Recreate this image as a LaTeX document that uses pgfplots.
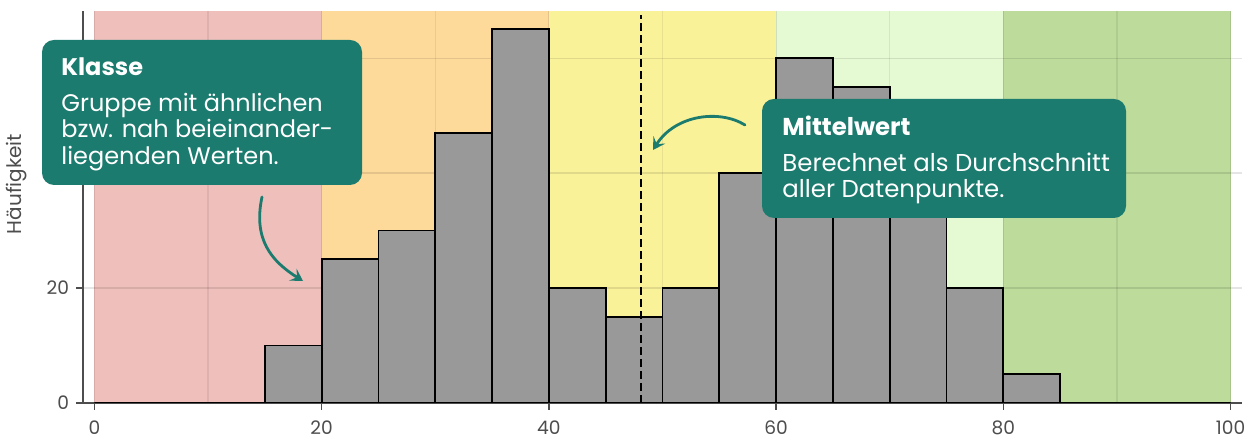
\documentclass[border=0pt]{standalone}
\usepackage{fontspec}
\setmainfont{Poppins}
\usepackage{pgfplots}
\pgfplotsset{compat=1.18}
\usetikzlibrary{arrows.meta}
\definecolor{cred}{HTML}{EFBFBC}
\definecolor{corange}{HTML}{FDDA9A}
\definecolor{cyellow}{HTML}{FAF299}
\definecolor{clgreen}{HTML}{E5F9D3}
\definecolor{cgreen}{HTML}{BDDB9B}
\definecolor{barfill}{HTML}{999999}
\definecolor{axisgray}{HTML}{4D4D4D}
\definecolor{labelgray}{HTML}{4D4D4D}
\definecolor{teal}{HTML}{1B7B6E}
\begin{document}
\begin{tikzpicture}
\begin{axis}[
 set layers,
 scale only axis, width=579.5pt, height=196pt,
 xmin=-1, xmax=101, ymin=0, ymax=68.2,
 axis lines*=left,
 axis line style={draw=axisgray, line width=0.7pt},
 xtick={0,20,...,100}, ytick={0,20,40,60},
 minor xtick={10,30,50,70,90},
 xmajorgrids, ymajorgrids, xminorgrids,
 major grid style={draw=black, draw opacity=0.1, line width=0.6pt},
 minor grid style={draw=black, draw opacity=0.07, line width=0.6pt},
 tick align=outside, major tick length=3.5pt, minor tick length=0pt,
 tick style={draw=axisgray, line width=0.7pt},
 ticklabel style={font=\fontsize{9.3}{10}\selectfont, text=labelgray},
 xticklabel style={yshift=-2pt},
 /pgf/number format/assume math mode=true,
]
\addplot[fill=cred, draw=none, on layer=axis background] coordinates {(0,68.2) (20,68.2)} \closedcycle;
\addplot[fill=corange, draw=none, on layer=axis background] coordinates {(20,68.2) (40,68.2)} \closedcycle;
\addplot[fill=cyellow, draw=none, on layer=axis background] coordinates {(40,68.2) (60,68.2)} \closedcycle;
\addplot[fill=clgreen, draw=none, on layer=axis background] coordinates {(60,68.2) (80,68.2)} \closedcycle;
\addplot[fill=cgreen, draw=none, on layer=axis background] coordinates {(80,68.2) (100,68.2)} \closedcycle;
\addplot[ybar interval, fill=barfill, draw=black, line width=0.9pt] table {
x y
0 0
5 0
10 0
15 10
20 25
25 30
30 47
35 65
40 20
45 15
50 20
55 40
60 60
65 55
70 40
75 20
80 5
85 0
90 0
95 0
100 0
};
\addplot[black, line width=0.8pt, dash pattern=on 4pt off 2pt] coordinates {(48.1,0) (48.1,67.5)};
\end{axis}
% y label
\node[rotate=90, font=\fontsize{10}{11}\selectfont, text=labelgray] at (-33pt,109.5pt) {Häufigkeit};
% Klasse box
\fill[teal, rounded corners=6pt] (-20.5pt,109pt) rectangle (139.5pt,181.5pt);
\node[anchor=base west, inner sep=0pt, text=white, font=\fontsize{12}{12}\selectfont\bfseries] at (-11pt,163.5pt) {Klasse};
\node[anchor=base west, inner sep=0pt, text=white, font=\fontsize{12}{12}\selectfont] at (-11pt,145.5pt) {Gruppe mit ähnlichen};
\node[anchor=base west, inner sep=0pt, text=white, font=\fontsize{12}{12}\selectfont] at (-11pt,132.5pt) {bzw. nah beieinander-};
\node[anchor=base west, inner sep=0pt, text=white, font=\fontsize{12}{12}\selectfont] at (-11pt,119pt) {liegenden Werten.};
% Mittelwert box
\fill[teal, rounded corners=6pt] (339.5pt,92.5pt) rectangle (521.5pt,152pt);
\node[anchor=base west, inner sep=0pt, text=white, font=\fontsize{12.2}{12}\selectfont\bfseries] at (349.5pt,133.5pt) {Mittelwert};
\node[anchor=base west, inner sep=0pt, text=white, font=\fontsize{12.2}{12}\selectfont] at (349.5pt,115.5pt) {Berechnet als Durchschnitt};
\node[anchor=base west, inner sep=0pt, text=white, font=\fontsize{12.2}{12}\selectfont] at (349.5pt,102.5pt) {aller Datenpunkte.};
% arrows
\draw[teal, line width=1.4pt, line cap=round, -{Stealth[length=6pt,width=7pt,inset=2.5pt]}] (89.5pt,103pt) .. controls (85pt,82pt) and (94pt,71pt) .. (110pt,61pt);
\draw[teal, line width=1.4pt, line cap=round, -{Stealth[length=6pt,width=7pt,inset=2.5pt]}] (331pt,139pt) .. controls (318pt,147pt) and (296pt,144pt) .. (285pt,126.5pt);
\path (-41.5pt,-19.5pt) rectangle (587.5pt,201.5pt);
\end{tikzpicture}
\end{document}
